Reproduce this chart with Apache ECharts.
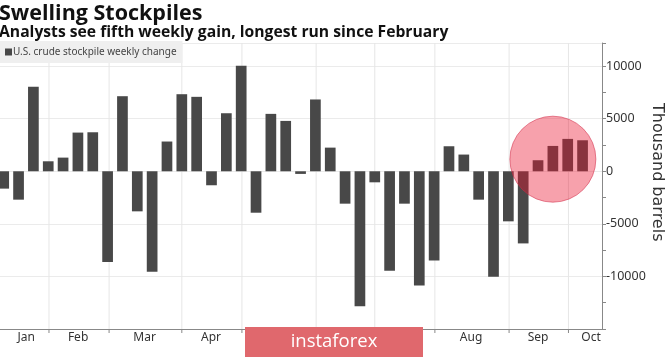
<!DOCTYPE html>
<html>
<head>
<meta charset="utf-8">
<script src="https://cdn.jsdelivr.net/npm/echarts@6/dist/echarts.min.js"></script>
<style>
  html, body { margin: 0; padding: 0; background: #fff; }
  #chart { width: 665px; height: 358px; }
</style>
</head>
<body>
<div id="chart"></div>
<script>
// Weekly change in U.S. crude stockpiles (thousand barrels), one value per week
const weeklyChange = [-1650, -2700, 8030, 950, 1300, 3680, 3710, -8630, 7140, -3810,
  -9550, 2830, 7330, 7080, -1330, 5520, 10030, -3940, 5460, 4790,
  -250, 6830, 2250, -3080, -12830, -1050, -9460, -3080, -10860, -8480,
  2380, 1590, -2700, -10030, -4760, -6860, 1050, 2410, 3080, 2950];
// Month boundaries, in weeks (week index units)
const monthStarts = [3.05, 7.1, 12.0, 16.05, 21.05, 25.0, 29.05, 34.05, 38.05];
// Month labels and their positions (week index units)
const monthNames = ['Jan', 'Feb', 'Mar', 'Apr', 'May', 'Jun', 'Jul', 'Aug', 'Sep', 'Oct'];
const monthLabelPos = [1.52, 5.01, 9.49, 13.97, 18.55, 23.03, 27.04, 31.49, 36.0, 39.57];
// Highlight circle around the latest run of gains (week index, value)
const highlight = [37.0, 1150];
const seriesName = 'U.S. crude stockpile weekly change';

const Y_MIN = -15000, Y_MAX = 12200;
const chart = echarts.init(document.getElementById('chart'), null, { renderer: 'canvas' });

const barData = weeklyChange.map((v, i) => [i, v]);

const option = {
  animation: false,
  backgroundColor: '#ffffff',
  textStyle: { fontFamily: 'Noto Sans' },
  title: [
    { text: 'Swelling Stockpiles', left: -1, top: 3, padding: 0,
      textStyle: { fontFamily: 'Open Sans', fontWeight: 'bold', fontSize: 21.5, color: '#111' } },
    { text: 'Analysts see fifth weekly gain, longest run since February', left: -1, top: 25, padding: 0,
      textStyle: { fontFamily: 'Open Sans', fontWeight: 'bold', fontSize: 15.7, color: '#111' } }
  ],
  legend: {
    data: [seriesName],
    left: 0, top: 41,
    backgroundColor: '#efefef',
    padding: [6, 6, 6, 5],
    itemWidth: 7, itemHeight: 7,
    icon: 'rect',
    textStyle: { fontSize: 10, color: '#444', fontFamily: 'Noto Sans', padding: [0, 0, 0, -4] },
    selectedMode: false
  },
  grid: { left: 0, right: 63, top: 43, bottom: 29, containLabel: false },
  xAxis: {
    type: 'value', min: -0.25, max: 40.31,
    axisLine: { show: true, onZero: false, lineStyle: { color: '#888', width: 1 } },
    axisTick: { show: false }, axisLabel: { show: false }, splitLine: { show: false }
  },
  yAxis: {
    type: 'value', position: 'right', min: Y_MIN, max: Y_MAX, interval: 5000,
    axisLine: { show: true, onZero: false, lineStyle: { color: '#888' } },
    axisTick: { show: true, length: 4, lineStyle: { color: '#888' } },
    minorTick: { show: true, splitNumber: 2, length: 4, lineStyle: { color: '#888' } },
    axisLabel: {
      margin: 4, color: '#333', fontSize: 12.5, fontFamily: 'Noto Sans',
      formatter: v => (v % 5000 === 0 && v > Y_MIN) ? String(v) : ''
    },
    splitLine: { show: true, lineStyle: { color: '#ebebeb', width: 1 } }
  },
  series: [
    {
      type: 'custom', name: 'monthGrid', silent: true, z: 1,
      data: monthStarts.map(m => [m, 0]),
      renderItem: (params, api) => {
        const top = api.coord([api.value(0), Y_MAX]);
        const bot = api.coord([api.value(0), Y_MIN]);
        return {
          type: 'group',
          children: [
            { type: 'line', shape: { x1: top[0], y1: top[1], x2: bot[0], y2: bot[1] },
              style: { stroke: '#e6e6e6', lineWidth: 1 } },
            { type: 'line', shape: { x1: bot[0], y1: bot[1], x2: bot[0], y2: bot[1] + 4 },
              style: { stroke: '#888', lineWidth: 1 } }
          ]
        };
      }
    },
    {
      type: 'custom', name: 'monthLabels', silent: true, z: 1,
      data: monthLabelPos.map(m => [m, 0]),
      renderItem: (params, api) => {
        const p = api.coord([api.value(0), Y_MIN]);
        return {
          type: 'text',
          style: {
            x: p[0], y: p[1] + 9, text: monthNames[params.dataIndex],
            textAlign: 'center', textVerticalAlign: 'middle',
            fill: '#333', fontSize: 12, fontFamily: 'Noto Sans'
          }
        };
      }
    },
    {
      type: 'bar', name: seriesName, data: barData, barWidth: 10.7, z: 2,
      itemStyle: { color: '#484848' }
    },
    {
      type: 'custom', name: 'highlight', silent: true, z: 5,
      data: [highlight],
      renderItem: (params, api) => {
        const c = api.coord([api.value(0), api.value(1)]);
        return {
          type: 'circle',
          shape: { cx: c[0], cy: c[1], r: 43 },
          style: { fill: 'rgba(235,20,47,0.40)', stroke: 'rgba(210,40,70,0.55)', lineWidth: 1 }
        };
      }
    }
  ],
  graphic: [
    { type: 'text', left: 649, top: 103, rotation: -Math.PI / 2,
      style: { text: 'Thousand barrels', fill: '#333', fontSize: 16, fontFamily: 'DejaVu Sans' } },
    { type: 'group', left: 245, top: 327, zlevel: 2, z: 100, children: [
      { type: 'rect', zlevel: 2, z: 100, shape: { x: 0, y: 0, width: 178, height: 30 },
        style: { fill: '#e0686d' } },
      { type: 'text', zlevel: 2, z: 101, x: 89, y: 15,
        style: { text: 'instaforex', fill: '#fff', fontSize: 18.5, fontFamily: 'Open Sans',
                 textAlign: 'center', textVerticalAlign: 'middle' } }
    ] }
  ]
};
chart.setOption(option);
</script>
</body>
</html>
